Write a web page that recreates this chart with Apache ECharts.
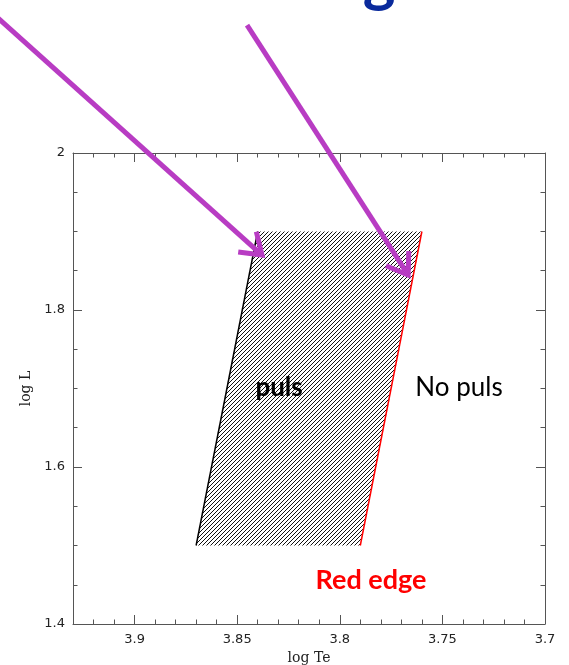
<!DOCTYPE html>
<html>
<head>
<meta charset="utf-8">
<script src="https://cdn.jsdelivr.net/npm/echarts@6/dist/echarts.min.js"></script>
<style>
html,body{margin:0;padding:0;background:#fff;}
#chart{width:569px;height:665px;}
</style>
</head>
<body>
<div id="chart"></div>
<script>
// ---- data ----
const xTickLabels = ['3.9', '3.85', '3.8', '3.75', '3.7'];
const yTickLabels = ['1.4', '1.6', '1.8', '2'];
// instability strip edges: [logTe, logL] bottom then top
const blueEdge = [[3.87, 1.5], [3.84, 1.9]];
const redEdge = [[3.79, 1.5], [3.76, 1.9]];
// annotation arrows: [x1, y1, x2(tip), y2(tip)] in data units
const arrows = [
  [3.970, 2.180, 3.8379, 1.870],
  [3.8452, 2.163, 3.7667, 1.8446]
];
// text annotations
const noteTexts = ['puls', 'No puls', 'Red edge'];
const noteX = [3.8296, 3.7419, 3.7848];
const noteY = [1.701, 1.701, 1.456];

// ---- hatch pattern ----
const hatch = document.createElement('canvas');
hatch.width = 4; hatch.height = 4;
(function(){
  const c = hatch.getContext('2d');
  c.strokeStyle = '#111';
  c.lineWidth = 1;
  c.beginPath();
  c.moveTo(-1, 5); c.lineTo(5, -1);
  c.moveTo(-1, 1); c.lineTo(1, -1);
  c.moveTo(3, 5); c.lineTo(5, 3);
  c.stroke();
})();

const chart = echarts.init(document.getElementById('chart'), null, {renderer: 'canvas'});

const axisColor = '#555';
function xAxisCfg(pos, showLabel) {
  return {
    type: 'value', position: pos, inverse: true,
    min: 3.7, max: 3.93, interval: 0.05,
    name: showLabel ? 'log Te' : '', nameLocation: 'middle', nameGap: 25,
    nameTextStyle: {fontFamily: 'DejaVu Serif', fontSize: 14, color: '#222'},
    axisLine: {show: true, onZero: false, lineStyle: {color: axisColor, width: 1}},
    axisTick: {show: true, inside: true, length: 9, lineStyle: {color: axisColor}},
    minorTick: {show: true, splitNumber: 5, length: 4.5, lineStyle: {color: axisColor}},
    splitLine: {show: false},
    axisLabel: {
      show: showLabel, margin: 9, fontFamily: 'DejaVu Sans', fontSize: 13, color: '#222',
      formatter: function (v) {
        const s = String(+v.toFixed(2));
        return xTickLabels.indexOf(s) >= 0 ? s : '';
      }
    }
  };
}
function yAxisCfg(pos, showLabel) {
  return {
    type: 'value', position: pos,
    min: 1.4, max: 2, interval: 0.2,
    name: showLabel ? 'log L' : '', nameLocation: 'middle', nameGap: 32,
    nameTextStyle: {fontFamily: 'DejaVu Serif', fontSize: 14, color: '#222'},
    axisLine: {show: true, onZero: false, lineStyle: {color: axisColor, width: 1}},
    axisTick: {show: true, inside: true, length: 9, lineStyle: {color: axisColor}},
    minorTick: {show: true, splitNumber: 4, length: 4.5, lineStyle: {color: axisColor}},
    splitLine: {show: false},
    axisLabel: {
      show: showLabel, margin: 8, fontFamily: 'DejaVu Sans', fontSize: 13, color: '#222',
      formatter: function (v) {
        const s = String(+v.toFixed(2));
        return yTickLabels.indexOf(s) >= 0 ? s : '';
      }
    }
  };
}

const option = {
  animation: false,
  backgroundColor: '#fff',
  grid: {left: 73, right: 24, top: 153, bottom: 41, containLabel: false, outerBoundsMode: 'none'},
  xAxis: [xAxisCfg('bottom', true), xAxisCfg('top', false)],
  yAxis: [yAxisCfg('left', true), yAxisCfg('right', false)],
  graphic: [{
    type: 'text', x: 379, y: -20,
    style: {text: 'g', fill: '#0A2A9C', font: 'bold 62px Lato', align: 'center', verticalAlign: 'middle'},
    z: 1
  }],
  series: [
    {
      type: 'custom', name: 'strip', xAxisIndex: 0, yAxisIndex: 0, z: 2,
      data: [[0]],
      renderItem: function (params, api) {
        const pts = [blueEdge[0], blueEdge[1], redEdge[1], redEdge[0]].map(function (p) { return api.coord(p); });
        return {type: 'polygon', shape: {points: pts}, style: {fill: {image: hatch, repeat: 'repeat'}, stroke: null}};
      }
    },
    {
      type: 'line', name: 'blue edge', data: blueEdge, symbol: 'none', z: 3,
      lineStyle: {color: '#000', width: 1.5}
    },
    {
      type: 'line', name: 'red edge', data: redEdge, symbol: 'none', z: 3,
      lineStyle: {color: '#ff0000', width: 1.5}
    },
    {
      type: 'custom', name: 'notes', z: 4,
      data: noteTexts.map(function (t, i) { return [noteX[i], noteY[i], i]; }),
      renderItem: function (params, api) {
        const i = api.value(2);
        const p = api.coord([api.value(0), api.value(1)]);
        const styles = [
          {fill: '#000', font: 'bold 26px Lato'},
          {fill: '#000', font: '26px Lato'},
          {fill: '#ff0000', font: 'bold 27px Lato'}
        ];
        return {type: 'text', x: p[0], y: p[1],
          style: {text: noteTexts[i], fill: styles[i].fill, font: styles[i].font, align: 'center', verticalAlign: 'middle'}};
      }
    },
    {
      type: 'custom', name: 'arrows', z: 10, clip: false,
      data: arrows,
      renderItem: function (params, api) {
        const a = api.coord([api.value(0), api.value(1)]);
        const b = api.coord([api.value(2), api.value(3)]);
        const dx = b[0] - a[0], dy = b[1] - a[1];
        const L = Math.sqrt(dx * dx + dy * dy);
        const ux = dx / L, uy = dy / L;
        const ang = Math.atan2(-uy, -ux);
        const wl = 24, spread = 0.6;
        const w1 = [b[0] + wl * Math.cos(ang + spread), b[1] + wl * Math.sin(ang + spread)];
        const w2 = [b[0] + wl * Math.cos(ang - spread), b[1] + wl * Math.sin(ang - spread)];
        const color = '#B83CC3';
        return {
          type: 'group',
          children: [
            {type: 'polyline', shape: {points: [a, [b[0] - ux * 3, b[1] - uy * 3]]},
              style: {stroke: color, lineWidth: 5, fill: null}},
            {type: 'polyline', shape: {points: [w1, b, w2]},
              style: {stroke: color, lineWidth: 5, fill: null, lineJoin: 'miter', miterLimit: 10}}
          ]
        };
      }
    }
  ]
};
chart.setOption(option);
</script>
</body>
</html>
